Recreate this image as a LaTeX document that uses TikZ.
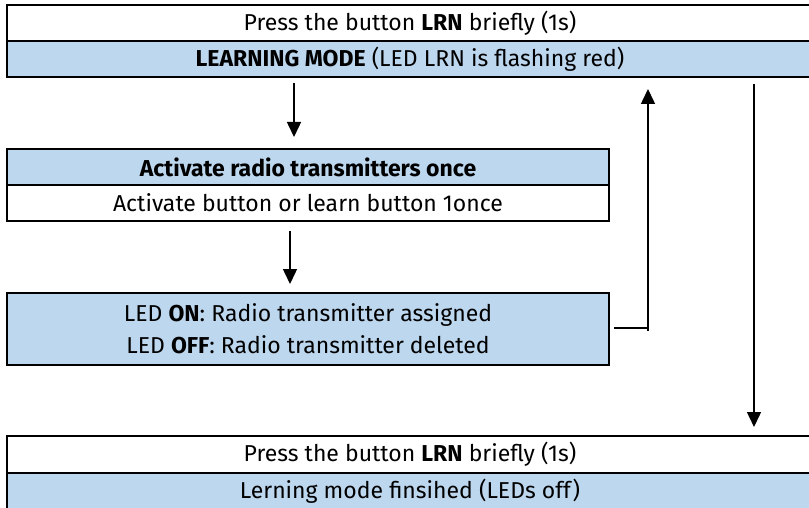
\documentclass[tikz,border=0pt]{standalone}
\usepackage{fontspec}
\setmainfont{Fira Sans}
\usetikzlibrary{arrows.meta}
\definecolor{lrnblue}{RGB}{189,215,238}

\begin{document}
\begin{tikzpicture}[x=1pt,y=1pt,yscale=-1,
  rowwhite/.style={draw=black,line width=2pt,fill=white,inner sep=0pt,minimum height=36pt,font=\fontsize{23}{32}\selectfont},
  rowblue/.style={rowwhite,fill=lrnblue},
  flow/.style={line width=1.5pt,-{Triangle[length=15pt,width=14pt]}}]
\clip (0,0) rectangle (809,508);
\useasboundingbox (0,0) rectangle (809,508);

% Text Node
\node [rowwhite,minimum width=806pt] (pressA) at (410,23) {Press the button \textbf{LRN} briefly (1s)};
% Text Node
\node [rowblue,minimum width=806pt] (learnA) at (410,59) {\textbf{LEARNING MODE} (LED LRN is flashing red)};
% Text Node
\node [rowblue,minimum width=602pt] (actHead) at (308,167) {\textbf{Activate radio transmitters once}};
% Text Node
\node [rowwhite,minimum width=602pt] (actText) at (308,203) {Activate button or learn button 1once};
% Text Node
\node [rowblue,minimum width=602pt,minimum height=72pt,align=center] (ledBox) at (308,329) {LED \textbf{ON}: Radio transmitter assigned\\LED \textbf{OFF}: Radio transmitter deleted};
% Text Node
\node [rowwhite,minimum width=806pt,minimum height=37pt] (pressB) at (410,454.5) {Press the button \textbf{LRN} briefly (1s)};
% Text Node
\node [rowblue,minimum width=806pt,minimum height=37pt] (doneB) at (410,491.5) {Lerning mode finsihed (LEDs off)};

%Straight Lines
\draw [flow,shorten <=5pt,shorten >=11pt] ([xshift=-116pt]learnA.south) -- ([xshift=-14pt]actHead.north);
%Straight Lines
\draw [flow,shorten <=9pt,shorten >=8pt] ([xshift=-18pt]actText.south) -- ([xshift=-18pt]ledBox.north);
%Straight Lines
\coordinate (fbk) at (648,331);
\draw [line width=1.5pt] ([shift={(4pt,-1pt)}]ledBox.east) -- ([yshift=-3pt]fbk);
\draw [flow,shorten >=11pt] (fbk) -- (fbk |- learnA.south);
%Straight Lines
\draw [flow,shorten <=6pt,shorten >=8pt] ([xshift=344pt]learnA.south) -- ([xshift=344pt]pressB.north);

\end{tikzpicture}
\end{document}
